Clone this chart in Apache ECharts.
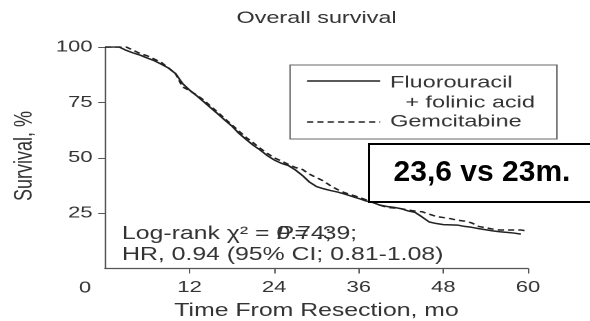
<!DOCTYPE html>
<html lang="en">
<head>
<meta charset="utf-8">
<title>KM overall survival</title>
<script src="https://cdn.jsdelivr.net/npm/echarts@6/dist/echarts.min.js"></script>
<style>
	body { margin: 0; background: #fff; overflow: hidden; }
	#plot { position: absolute; left: 0; top: 0; width: 428px; height: 321px; transform: scaleX(1.3785); transform-origin: 0 0; }
	#note { position: absolute; left: 360px; top: 136px; width: 230px; height: 74px; }
</style>
</head>
<body>
<div id="plot"></div>
<div id="note"></div>
<script>
	var months = [0, 1, 2, 3, 4, 5, 6, 7, 8, 9, 10, 11, 12, 13, 14, 15, 16, 17, 18, 19, 20,
		21, 22, 23, 24, 25, 26, 27, 28, 29, 30, 31, 32, 33, 34, 35, 36, 37, 38, 39, 40,
		41, 42, 43, 44, 45, 46, 47, 48, 49, 50, 51, 52, 53, 54, 55, 56, 57, 58, 59, 60];

	// Fluorouracil + folinic acid
	var fluorouracil = [100, 100, 100, 98.5, 97.3, 96.3, 95, 93.8, 92.2, 90.5, 88, 83.5, 80.5, 78, 75.3, 72.5,
		69.8, 67, 64.3, 61, 58.3, 55.7, 53.5, 51, 49, 47.5, 46.5, 44.5, 42, 39, 37, 36, 35.2, 34.5, 33.6,
		32.6, 31.6, 30.5, 29.8, 28.6, 28, 27.6, 27, 26, 25.3, 23.2, 21, 20.3, 19.8, 19.7, 19.6, 19, 18.6,
		18, 17.5, 17, 16.6, 16.3, 16, 15.5, null];

	// Gemcitabine
	var gemcitabine = [100, 100, 100, 100, 98.5, 97, 96, 94.5, 93, 90.5, 88, 82, 80.3, 78.3, 76, 73.2,
		70.5, 67.6, 64.8, 62, 59.2, 56.8, 54.3, 52, 50, 48.5, 47, 45.6, 44.7, 42.6, 41, 39.5, 37.3, 35.6,
		34.2, 33.2, 32.2, 31, 29.8, 28.6, 27.6, 27.3, 27, 26.4, 25.9, 25.6, 24.5, 23.5, 23, 22.5, 21.8,
		21.4, 20.6, 19, 18.4, 17.8, 17.4, 17.4, 17.4, 17.4, 16.8];

	var xTicks = [0, 12, 24, 36, 48, 60];
	var yTicks = [0, 25, 50, 75, 100];

	function toPairs(ys) {
		var out = [];
		for (var i = 0; i < months.length; i++) {
			if (ys[i] != null) out.push([months[i], ys[i]]);
		}
		return out;
	}

	var fam = 'Liberation Sans';
	var ink = '#333';
	var axisInk = '#555';

	function txtItem(text, x, y, size, align, more) {
		var st = { text: text, fontSize: size, fontFamily: fam, fill: ink,
			align: align || 'left', verticalAlign: 'middle' };
		if (more) for (var k in more) st[k] = more[k];
		return { type: 'text', x: x, y: y, style: st };
	}

	var km = echarts.init(document.getElementById('plot'), null, { renderer: 'canvas', devicePixelRatio: 2 });
	km.setOption({
		animation: false,
		grid: { left: 76.2, right: 45, top: 47, bottom: 52.5 },
		xAxis: {
			type: 'value',
			min: xTicks[0],
			max: xTicks[xTicks.length - 1],
			interval: 12,
			splitLine: { show: false },
			axisLine: { show: true, lineStyle: { color: axisInk, width: 1.2 } },
			axisTick: { show: true, length: 5, lineStyle: { color: axisInk, width: 1 } },
			axisLabel: { margin: 11, showMinLabel: false, fontFamily: fam, fontSize: 16, color: ink }
		},
		yAxis: {
			type: 'value',
			min: yTicks[0],
			max: yTicks[yTicks.length - 1],
			interval: 25,
			splitLine: { show: false },
			axisLine: { show: true, lineStyle: { color: axisInk, width: 1.2 } },
			axisTick: { show: true, length: 5, lineStyle: { color: axisInk, width: 1 } },
			axisLabel: { margin: 9, showMinLabel: false, fontFamily: fam, fontSize: 16, color: ink }
		},
		series: [
			{
				name: 'Fluorouracil + folinic acid',
				type: 'line',
				symbol: 'none',
				lineStyle: { color: '#222', width: 1.5 },
				data: toPairs(fluorouracil)
			},
			{
				name: 'Gemcitabine',
				type: 'line',
				symbol: 'none',
				lineStyle: { color: '#222', width: 1.5, type: [4.5, 3] },
				data: toPairs(gemcitabine)
			}
		],
		graphic: [
			txtItem('Overall survival', 229.6, 18.5, 17, 'center'),
			txtItem('0', 61.7, 288, 16, 'center'),
			txtItem('Time From Resection, mo', 229.6, 311, 18, 'center'),
			{ type: 'text', x: 18, y: 156, rotation: Math.PI / 2, style: { text: 'Survival, %', fontSize: 18,
				fontFamily: fam, fill: ink, align: 'center', verticalAlign: 'middle' } },
			// legend box
			{ type: 'rect', shape: { x: 210.4, y: 65, width: 193.6, height: 74 },
				style: { fill: 'none', stroke: '#666', lineWidth: 1 } },
			{ type: 'line', shape: { x1: 222.7, y1: 81, x2: 275.7, y2: 81 },
				style: { stroke: '#222', lineWidth: 1.5 } },
			{ type: 'line', shape: { x1: 222.7, y1: 122, x2: 275.7, y2: 122 },
				style: { stroke: '#222', lineWidth: 1.5, lineDash: [4.5, 3] } },
			txtItem('Fluorouracil', 283, 83, 17),
			txtItem('+ folinic acid', 294, 103, 17),
			txtItem('Gemcitabine', 283, 122, 17),
			// statistics
			txtItem('Log-rank \u03c7\u00b2 = 0.74; ', 88.5, 234, 18),
			txtItem('P', 200.6, 234, 18, 'left', { fontStyle: 'italic' }),
			txtItem('= .39;', 213.5, 234, 18),
			txtItem('HR, 0.94 (95% CI; 0.81-1.08)', 88.5, 255, 18)
		]
	});

	// the boxed median note is not stretched in the source, so it is its own unscaled layer
	var note = echarts.init(document.getElementById('note'), null, { renderer: 'canvas' });
	note.setOption({
		animation: false,
		graphic: [
			{ type: 'rect', shape: { x: 9, y: 8, width: 240, height: 58 },
				style: { fill: '#fff', stroke: '#000', lineWidth: 2 } },
			{ type: 'text', x: 122, y: 37, style: { text: '23,6 vs 23m.', fontSize: 30, fontWeight: 'bold',
				fontFamily: fam, fill: '#000', align: 'center', verticalAlign: 'middle' } }
		]
	});
</script>
</body>
</html>
